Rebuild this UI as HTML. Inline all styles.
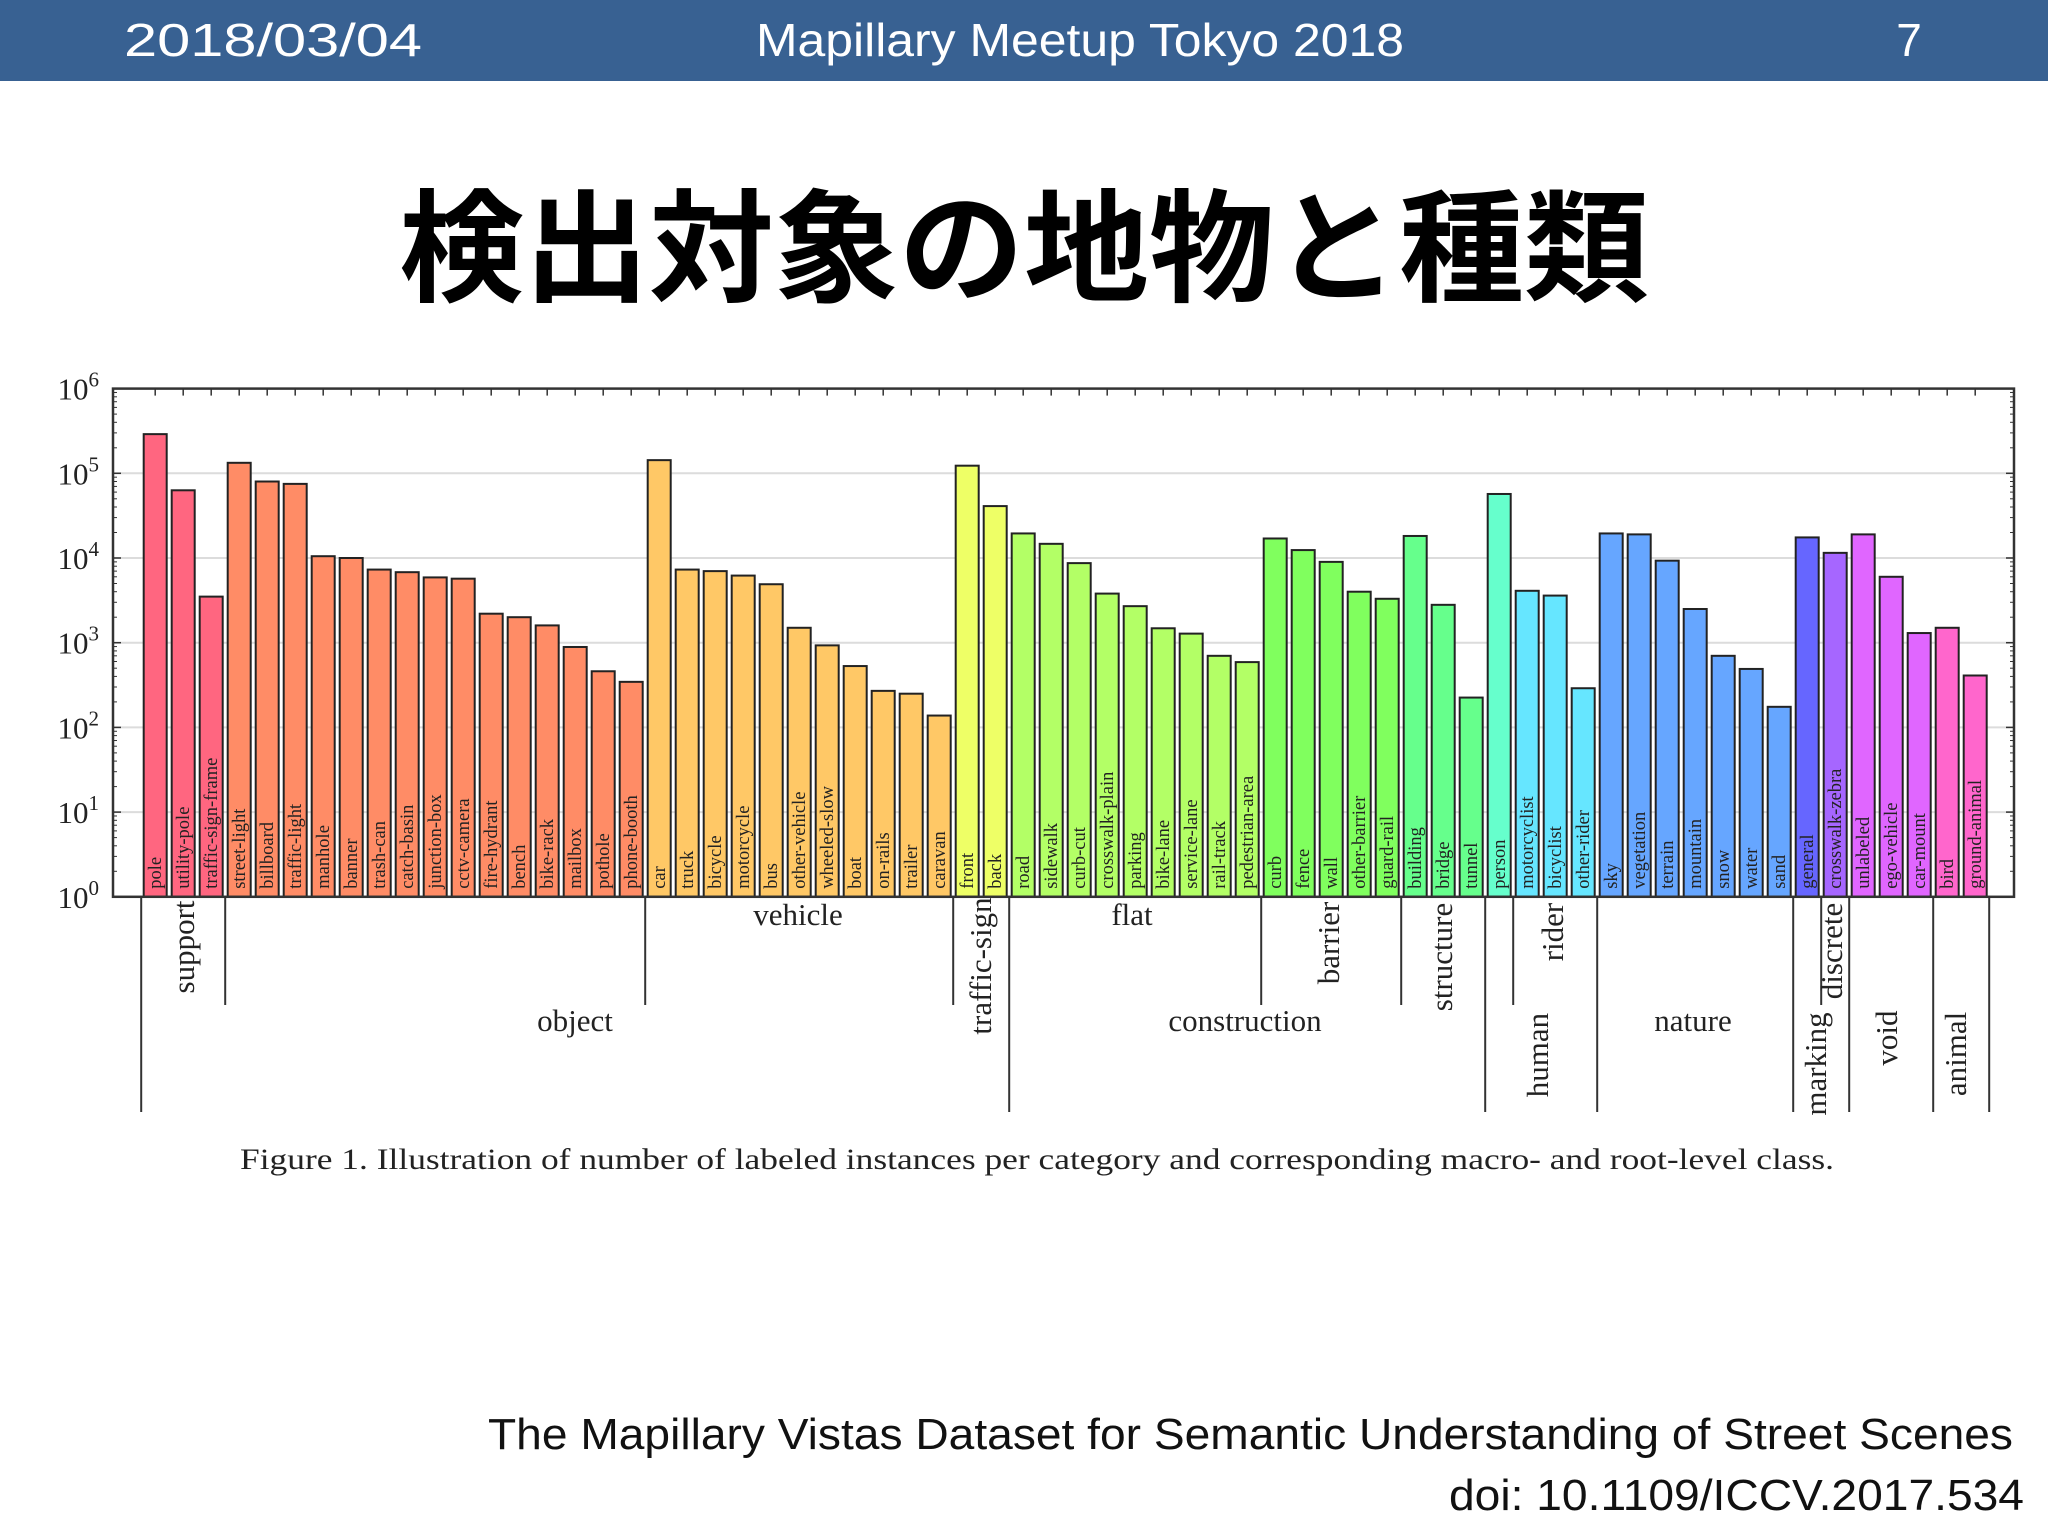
<!DOCTYPE html>
<html><head><meta charset="utf-8">
<style>
html,body{margin:0;padding:0;background:#fff;}
svg{display:block;}
</style></head>
<body>
<svg id="s" width="2048" height="1536" viewBox="0 0 2048 1536" xmlns="http://www.w3.org/2000/svg">
<rect x="0" y="0" width="2048" height="81" fill="#386192"/>
<text x="124" y="56" font-family="Liberation Sans, sans-serif" font-size="46" fill="#fff" textLength="298" lengthAdjust="spacingAndGlyphs">2018/03/04</text>
<text x="1080" y="56" text-anchor="middle" font-family="Liberation Sans, sans-serif" font-size="46" fill="#fff" textLength="648" lengthAdjust="spacingAndGlyphs">Mapillary Meetup Tokyo 2018</text>
<text x="1909" y="56" text-anchor="middle" font-family="Liberation Sans, sans-serif" font-size="46" fill="#fff">7</text>
<text x="1024" y="292" text-anchor="middle" font-family="Liberation Sans, 'Noto Sans CJK JP', sans-serif" font-weight="bold" font-size="122" fill="#000" textLength="1250" lengthAdjust="spacingAndGlyphs">検出対象の地物と種類</text>
<g id="chart"></g>
<text x="1037" y="1169" text-anchor="middle" font-family="Liberation Serif, serif" font-size="30" fill="#222" textLength="1594" lengthAdjust="spacingAndGlyphs">Figure 1. Illustration of number of labeled instances per category and corresponding macro- and root-level class.</text>
<text x="2013" y="1449" text-anchor="end" font-family="Liberation Sans, sans-serif" font-size="44" fill="#111" textLength="1525" lengthAdjust="spacingAndGlyphs">The Mapillary Vistas Dataset for Semantic Understanding of Street Scenes</text>
<text x="2024" y="1510" text-anchor="end" font-family="Liberation Sans, sans-serif" font-size="44" fill="#111" textLength="575" lengthAdjust="spacingAndGlyphs">doi: 10.1109/ICCV.2017.534</text>
</svg>
<script>
const categories = ["pole","utility-pole","traffic-sign-frame","street-light","billboard","traffic-light","manhole","banner","trash-can","catch-basin","junction-box","cctv-camera","fire-hydrant","bench","bike-rack","mailbox","pothole","phone-booth","car","truck","bicycle","motorcycle","bus","other-vehicle","wheeled-slow","boat","on-rails","trailer","caravan","front","back","road","sidewalk","curb-cut","crosswalk-plain","parking","bike-lane","service-lane","rail-track","pedestrian-area","curb","fence","wall","other-barrier","guard-rail","building","bridge","tunnel","person","motorcyclist","bicyclist","other-rider","sky","vegetation","terrain","mountain","snow","water","sand","general","crosswalk-zebra","unlabeled","ego-vehicle","car-mount","bird","ground-animal"];
const counts = [290000,63000,3500,133000,80000,75000,10500,10000,7300,6800,5900,5700,2200,2000,1600,890,460,345,143000,7300,7000,6200,4900,1500,930,530,270,250,138,123000,41000,19500,14700,8700,3800,2700,1480,1280,700,590,17000,12400,9000,4000,3300,18200,2800,225,57000,4100,3600,290,19500,19000,9300,2500,700,490,175,17500,11500,19000,6000,1300,1500,410];
const groupNames = ["support","object","vehicle","traffic-sign","flat","barrier","structure","human","rider","nature","marking","discrete","void","animal"];
const groupSizes = [3,15,11,2,9,5,3,1,3,7,1,1,3,2];
const groupColors = ["#ff6680","#ff8c66","#ffc866","#eeff66","#b3ff66","#80ff5e","#66ff8c","#66ffcc","#66e6ff","#66a6ff","#6666ff","#a666ff","#e066ff","#ff66cc"];
const yTickExps = [0,1,2,3,4,5,6];

const NS="http://www.w3.org/2000/svg";
const g=document.getElementById('chart');
const L=113, R=2014, T=388.6, B=896.8, decade=(B-T)/6;
const pitch=28.0, x0=143.7, bw=23;
function yScale(v){return B-decade*Math.log10(v);}
function xScale(i){return x0+pitch*i;}
function mk(tag,attrs){const e=document.createElementNS(NS,tag);for(const k in attrs)e.setAttribute(k,attrs[k]);g.appendChild(e);return e;}

yTickExps.forEach(e=>{
  if(e>0&&e<6){const l=mk('line',{x1:L,x2:R,y1:yScale(Math.pow(10,e)),y2:yScale(Math.pow(10,e)),stroke:'#dcdcdc','stroke-width':2});
  
  }
  const t=mk('text',{x:L-14,y:yScale(Math.pow(10,e))+11,'text-anchor':'end','font-family':'Liberation Serif, serif','font-size':31,fill:'#222'});
  
  
  t.textContent='10';
  const sp=document.createElementNS(NS,'tspan');sp.setAttribute('dy',-13);sp.setAttribute('font-size',21);sp.textContent=String(e);t.appendChild(sp);
  if(e<6){for(let m=2;m<10;m++){const yy=yScale(m*Math.pow(10,e));
    const a=mk('line',{x1:L,x2:L+4,y1:yy,y2:yy,stroke:'#333','stroke-width':1});
    
    
    const b=mk('line',{x1:R-4,x2:R,y1:yy,y2:yy,stroke:'#333','stroke-width':1});
    
    }}
  const c=mk('line',{x1:L,x2:L+8,y1:yScale(Math.pow(10,e)),y2:yScale(Math.pow(10,e)),stroke:'#333','stroke-width':1.5});
  
  
  const d=mk('line',{x1:R-8,x2:R,y1:yScale(Math.pow(10,e)),y2:yScale(Math.pow(10,e)),stroke:'#333','stroke-width':1.5});
  
  
});

const colorOf=[];
groupSizes.forEach((n,k)=>{for(let j=0;j<n;j++)colorOf.push(groupColors[k]);});
categories.forEach((c,i)=>{
  const x=xScale(i), y=yScale(counts[i]);
  const r=mk('rect',{x:x,y:y,width:bw,height:B-y,fill:colorOf[i],stroke:'#222','stroke-width':2});
  
  
  const t=mk('text',{x:0,y:0,transform:`translate(${x+bw/2+6},${B-8}) rotate(-90)`,'font-family':'Liberation Serif, serif','font-size':18.5,fill:'#222'});
  
  
  t.textContent=c;
  const tk=mk('line',{x1:x+bw/2,x2:x+bw/2,y1:T,y2:T+7,stroke:'#333','stroke-width':1.5});
  
  
});

const fr=mk('rect',{x:L,y:T,width:R-L,height:B-T,fill:'none',stroke:'#333','stroke-width':2.5});



const bounds=[[0,1],[3,0],[18,0],[29,0],[31,1],[40,0],[45,0],[48,1],[49,0],[52,1],[59,1],[60,0],[61,1],[64,1],[66,1]];
bounds.forEach(b=>{
  const x=xScale(b[0])-2.5;
  const l=mk('line',{x1:x,x2:x,y1:B,y2:b[1]?1112:1005,stroke:'#333','stroke-width':2});
  
  
});
const labels=[["support",183,947,1],["object",575,1020,0],["vehicle",798,914,0],["traffic-sign",980,966,1],["flat",1132,914,0],["construction",1245,1020,0],["barrier",1328,943,1],["structure",1441,957,1],["human",1537,1055,1],["rider",1552,932,1],["nature",1693,1020,0],["marking",1815,1064,1],["discrete",1831,951,1],["void",1886,1038,1],["animal",1955,1054,1]];
labels.forEach(a=>{
  const t=mk('text',{x:0,y:0,transform:`translate(${a[1]+(a[3]?11:0)},${a[2]+(a[3]?0:11)})${a[3]?' rotate(-90)':''}`,'text-anchor':'middle','font-family':'Liberation Serif, serif','font-size':31,fill:'#222'});
  
  
  t.textContent=a[0];
});
</script>
</body></html>
